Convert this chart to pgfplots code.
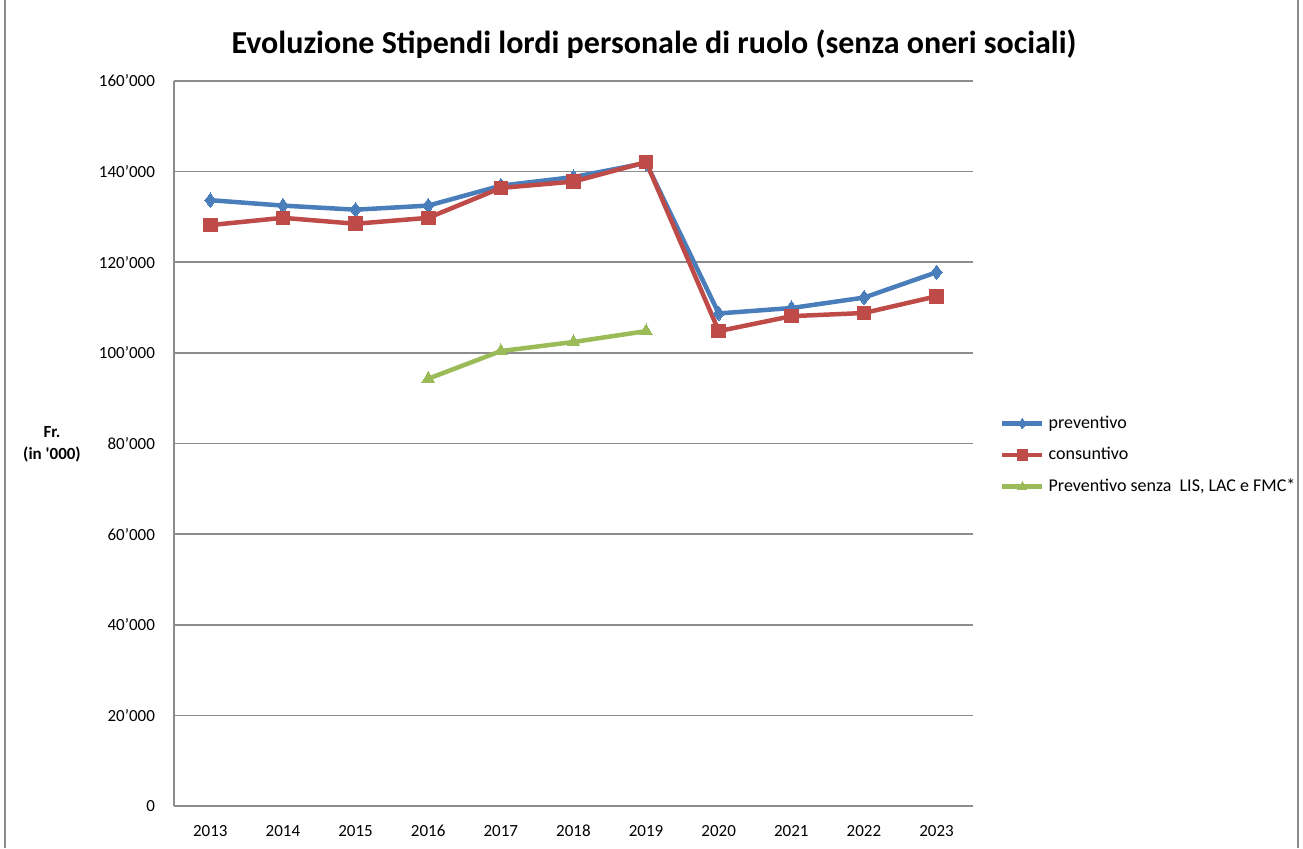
\documentclass[border=0pt]{standalone}
\usepackage{fontspec}
\setmainfont{Carlito}
\usepackage{pgfplots}
\pgfplotsset{compat=1.18}
\definecolor{prevblue}{HTML}{4A7EBB}
\definecolor{consred}{HTML}{BE4B48}
\definecolor{senzagreen}{HTML}{9BBB59}
\definecolor{gridgray}{HTML}{8C8C8C}
\begin{document}
\begin{tikzpicture}
\useasboundingbox (0pt,0pt) rectangle (651.5pt,424pt);
\draw[gridgray, line width=0.8pt] (2.5pt,0pt) -- (2.5pt,424pt);
\draw[gridgray, line width=0.8pt] (649pt,0pt) -- (649pt,424pt);
\node[font=\bfseries\fontsize{16}{19}\selectfont] at (327pt,402pt) {Evoluzione Stipendi lordi personale di ruolo (senza oneri sociali)};
\node[font=\bfseries\fontsize{8.5}{11}\selectfont, align=center] at (26pt,202pt) {Fr.\\(in \textquotesingle000)};
\begin{axis}[
    at={(87pt,21pt)}, anchor=south west,
    scale only axis,
    width=399.5pt, height=362.5pt,
    xmin=2012.5, xmax=2023.5,
    ymin=0, ymax=160000,
    xtick={2013,...,2023},
    ytick={0,20000,...,160000},
    scaled y ticks=false,
    axis x line=bottom, axis y line=left,
    axis line style={gridgray, line width=0.8pt, -},
    ymajorgrids=true,
    grid style={gridgray, line width=0.8pt},
    major tick length=0pt,
    tick label style={font=\fontsize{8.5}{10}\selectfont},
    /pgf/number format/assume math mode=true,
    yticklabel style={/pgf/number format/fixed, /pgf/number format/set thousands separator={’}, xshift=-6pt},
    xticklabel style={/pgf/number format/set thousands separator={}, yshift=-6pt},
    legend style={at={(1.031,0.484)}, anchor=west, draw=none, fill=none, inner sep=1pt,
        font=\fontsize{9}{11}\selectfont, row sep=4pt, cells={anchor=west, inner xsep=0.5pt}},
    legend image code/.code={\draw[#1] (0pt,0pt) -- (20pt,0pt); \draw[#1, only marks, mark size=2.6pt] plot coordinates {(10pt,0pt)};},
]
\addplot[prevblue, line width=2.25pt, mark=diamond*, mark size=3.6pt, mark options={solid, line width=0pt}] coordinates {
  (2013,133700) (2014,132500) (2015,131600) (2016,132500) (2017,136900)
  (2018,138800) (2019,141900) (2020,108700) (2021,109900) (2022,112200) (2023,117800)
};
\addlegendentry{preventivo}
\addplot[consred, line width=2.25pt, mark=square*, mark size=3.4pt, mark options={solid, line width=0pt}] coordinates {
  (2013,128200) (2014,129800) (2015,128500) (2016,129800) (2017,136400)
  (2018,137800) (2019,142100) (2020,104800) (2021,108100) (2022,108800) (2023,112500)
};
\addlegendentry{consuntivo}
\addplot[senzagreen, line width=2.25pt, mark=triangle*, mark size=3.6pt, mark options={solid, line width=0pt}] coordinates {
  (2016,94300) (2017,100400) (2018,102400) (2019,104800)
};
\addlegendentry{Preventivo senza\ \ LIS, LAC e FMC*}
\end{axis}
\end{tikzpicture}
\end{document}
